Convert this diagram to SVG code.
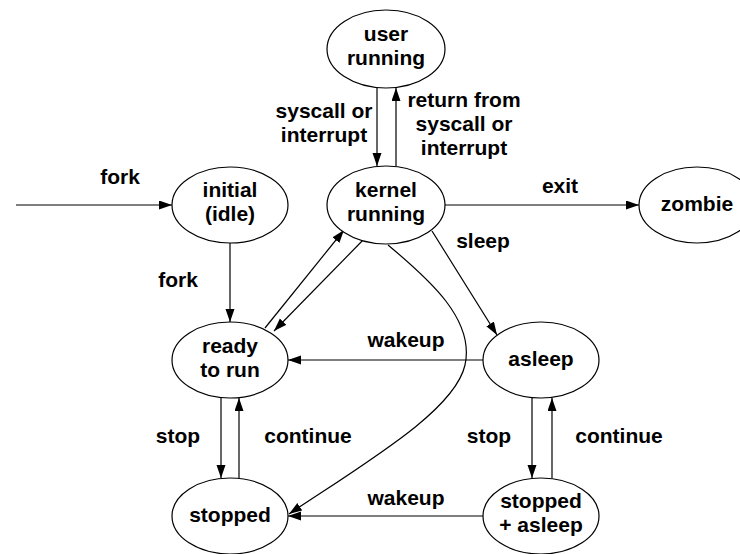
<svg xmlns="http://www.w3.org/2000/svg" width="740" height="554" viewBox="0 0 740 554">
<defs>
<marker id="arr" markerUnits="userSpaceOnUse" markerWidth="14" markerHeight="10" refX="13" refY="4.5" orient="auto">
<path d="M0,0 L13,4.5 L0,9 z" fill="#000"/>
</marker>
<style>
.n ellipse{fill:#fff;stroke:#000;stroke-width:1.2}
text{font-family:"Liberation Sans",Arial,sans-serif;font-weight:bold;font-size:21px;fill:#000;text-anchor:middle}
.c path,.c line{fill:none;stroke:#000;stroke-width:1.2;marker-end:url(#arr)}
</style>
</defs>
<rect width="740" height="554" fill="#fff"/>
<g class="c" id="connectors">
<line x1="16" y1="205" x2="172" y2="205"/>
<line x1="230" y1="243" x2="230" y2="322"/>
<line x1="377" y1="88" x2="377" y2="166"/>
<line x1="396" y1="166" x2="396" y2="88"/>
<line x1="445" y1="205" x2="639" y2="205"/>
<line x1="432" y1="231" x2="497" y2="335"/>
<line x1="265" y1="328" x2="344" y2="230"/>
<line x1="367" y1="236" x2="274" y2="331"/>
<path d="M388,245 C430,280 475,320 465,365 C455,410 370,460 289,514"/>
<line x1="483" y1="360" x2="288" y2="360"/>
<line x1="221" y1="398" x2="221" y2="478"/>
<line x1="239" y1="478" x2="239" y2="398"/>
<line x1="532" y1="398" x2="532" y2="478"/>
<line x1="552" y1="478" x2="552" y2="398"/>
<line x1="483" y1="516" x2="288" y2="516"/>
</g>
<g id="labels">
<text x="120" y="184">fork</text>
<text x="178" y="287">fork</text>
<text x="324" y="118">syscall or</text>
<text x="324" y="142">interrupt</text>
<text x="464" y="107">return from</text>
<text x="464" y="131">syscall or</text>
<text x="464" y="155">interrupt</text>
<text x="560" y="193">exit</text>
<text x="483" y="248">sleep</text>
<text x="406" y="347">wakeup</text>
<text x="178" y="443">stop</text>
<text x="308" y="443">continue</text>
<text x="489" y="443">stop</text>
<text x="619" y="443">continue</text>
<text x="406" y="505">wakeup</text>
</g>
<g class="n" id="user-running"><ellipse cx="386" cy="49" rx="59" ry="39"/><text x="386" y="41">user</text><text x="386" y="65">running</text></g>
<g class="n" id="kernel-running"><ellipse cx="386" cy="205" rx="59" ry="39"/><text x="386" y="197">kernel</text><text x="386" y="221">running</text></g>
<g class="n" id="initial"><ellipse cx="230" cy="205" rx="58" ry="38"/><text x="230" y="197">initial</text><text x="230" y="221">(idle)</text></g>
<g class="n" id="zombie"><ellipse cx="697" cy="205" rx="58" ry="38"/><text x="697" y="211">zombie</text></g>
<g class="n" id="ready"><ellipse cx="230" cy="360" rx="58" ry="38"/><text x="230" y="353">ready</text><text x="230" y="377">to run</text></g>
<g class="n" id="asleep"><ellipse cx="541" cy="360" rx="58" ry="38"/><text x="541" y="366">asleep</text></g>
<g class="n" id="stopped"><ellipse cx="230" cy="516" rx="58" ry="38"/><text x="230" y="522">stopped</text></g>
<g class="n" id="stopped-asleep"><ellipse cx="541" cy="516" rx="58" ry="38"/><text x="541" y="508">stopped</text><text x="541" y="532">+ asleep</text></g>
</svg>
